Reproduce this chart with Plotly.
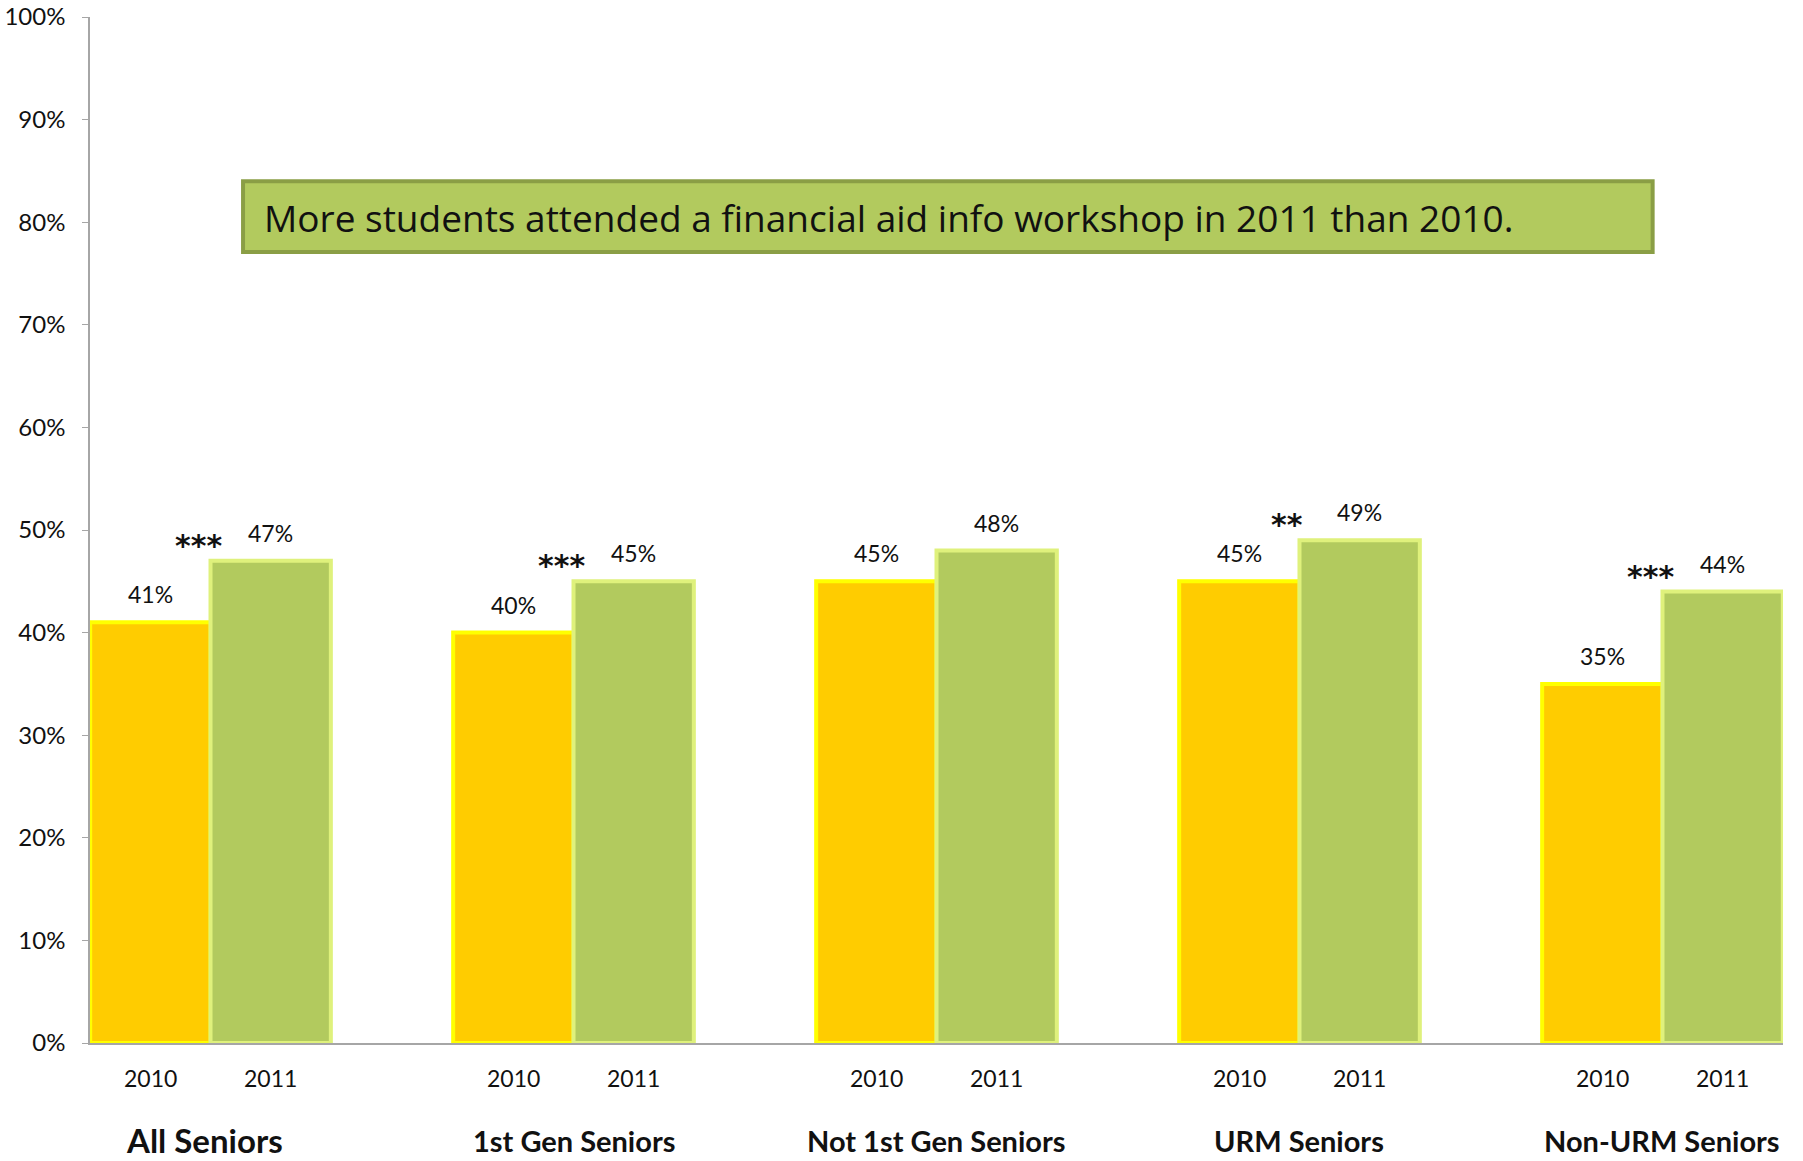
import plotly.graph_objects as go

# Share of seniors attending a financial aid info workshop, by group and year
groups = ["All Seniors", "1st Gen Seniors", "Not 1st Gen Seniors", "URM Seniors", "Non-URM Seniors"]
years = ["2010", "2011"]
pct_2010 = [41, 40, 45, 45, 35]
pct_2011 = [47, 45, 48, 49, 44]
significance = ["***", "***", "", "**", "***"]
y_ticks = list(range(0, 101, 10))
y_tick_labels = [f"{v}%" for v in y_ticks]
headline = "More students attended a financial aid info workshop in 2011 than 2010."

BODY_FONT = "Lato, 'Gill Sans', 'Open Sans', sans-serif"
STAR_FONT = "'DejaVu Sans', sans-serif"
GAP = 0.337
HALF = (1 - GAP) / 4  # offset from group centre to each bar centre

fig = go.Figure()
fig.add_trace(go.Bar(
    x=list(range(len(groups))), y=pct_2010, name=years[0],
    marker=dict(color="#FFCC00", line=dict(color="#FFFF00", width=4)),
))
fig.add_trace(go.Bar(
    x=list(range(len(groups))), y=pct_2011, name=years[1],
    marker=dict(color="#B2CA5E", line=dict(color="#DFF17C", width=4)),
))

annotations = []
for i, g in enumerate(groups):
    # value labels above bars
    for off, val in ((-HALF, pct_2010[i]), (HALF, pct_2011[i])):
        annotations.append(dict(
            x=i + off, y=val, xref="x", yref="y", text=f"{val}%",
            showarrow=False, yanchor="bottom", yshift=12,
            font=dict(family=BODY_FONT, size=23, color="#111111"),
        ))
    # significance stars between the two bars
    if significance[i]:
        annotations.append(dict(
            x=i, y=pct_2011[i], xref="x", yref="y", text=f"<b>{significance[i]}</b>",
            showarrow=False, yanchor="bottom", yshift=-4, xshift=-12,
            font=dict(family=STAR_FONT, size=30, color="#111111"),
        ))
    # year labels under each bar
    for off, yr in ((-HALF, years[0]), (HALF, years[1])):
        annotations.append(dict(
            x=i + off, y=-0.034, xref="x", yref="paper", text=yr,
            showarrow=False, yanchor="middle",
            font=dict(family=BODY_FONT, size=23, color="#111111"),
        ))
    # group name
    annotations.append(dict(
        x=i, y=-0.095, xref="x", yref="paper", text=f"<b>{g}</b>",
        showarrow=False, yanchor="middle", xshift=-6 if i == 0 else 0,
        font=dict(family=BODY_FONT, size=33 if i == 0 else 29, color="#111111"),
    ))

# headline banner
annotations.append(dict(
    x=0.1015, y=0.805, xref="paper", yref="paper", text=headline,
    showarrow=False, xanchor="left", yanchor="middle",
    font=dict(family="'Open Sans', Lato, sans-serif", size=37, color="#111111"),
))

fig.add_shape(
    type="rect", xref="paper", yref="paper",
    x0=0.0904, x1=0.923, y0=0.771, y1=0.840,
    fillcolor="#B2CA5E", line=dict(color="#8A9E45", width=4), layer="above",
)

fig.update_layout(
    width=1803, height=1161,
    margin=dict(l=90, r=20, t=17, b=118, autoexpand=False),
    plot_bgcolor="white", paper_bgcolor="white",
    barmode="group", bargap=GAP, bargroupgap=0,
    showlegend=False,
    annotations=annotations,
    xaxis=dict(
        range=[-0.332, len(groups) - 1 + 0.332], automargin=False,
        showticklabels=False, showgrid=False, zeroline=False,
        showline=True, linecolor="#A6A6A6", linewidth=1.5, ticks="",
    ),
    yaxis=dict(
        range=[0, 100], tickmode="array", tickvals=y_ticks, ticktext=y_tick_labels,
        automargin=False, showgrid=False, zeroline=False,
        showline=True, linecolor="#A6A6A6", linewidth=1.5,
        ticks="outside", ticklen=6, tickcolor="#A6A6A6",
        ticklabelstandoff=12,
        tickfont=dict(family=BODY_FONT, size=24, color="#111111"),
    ),
)

fig.write_html("out.html")
